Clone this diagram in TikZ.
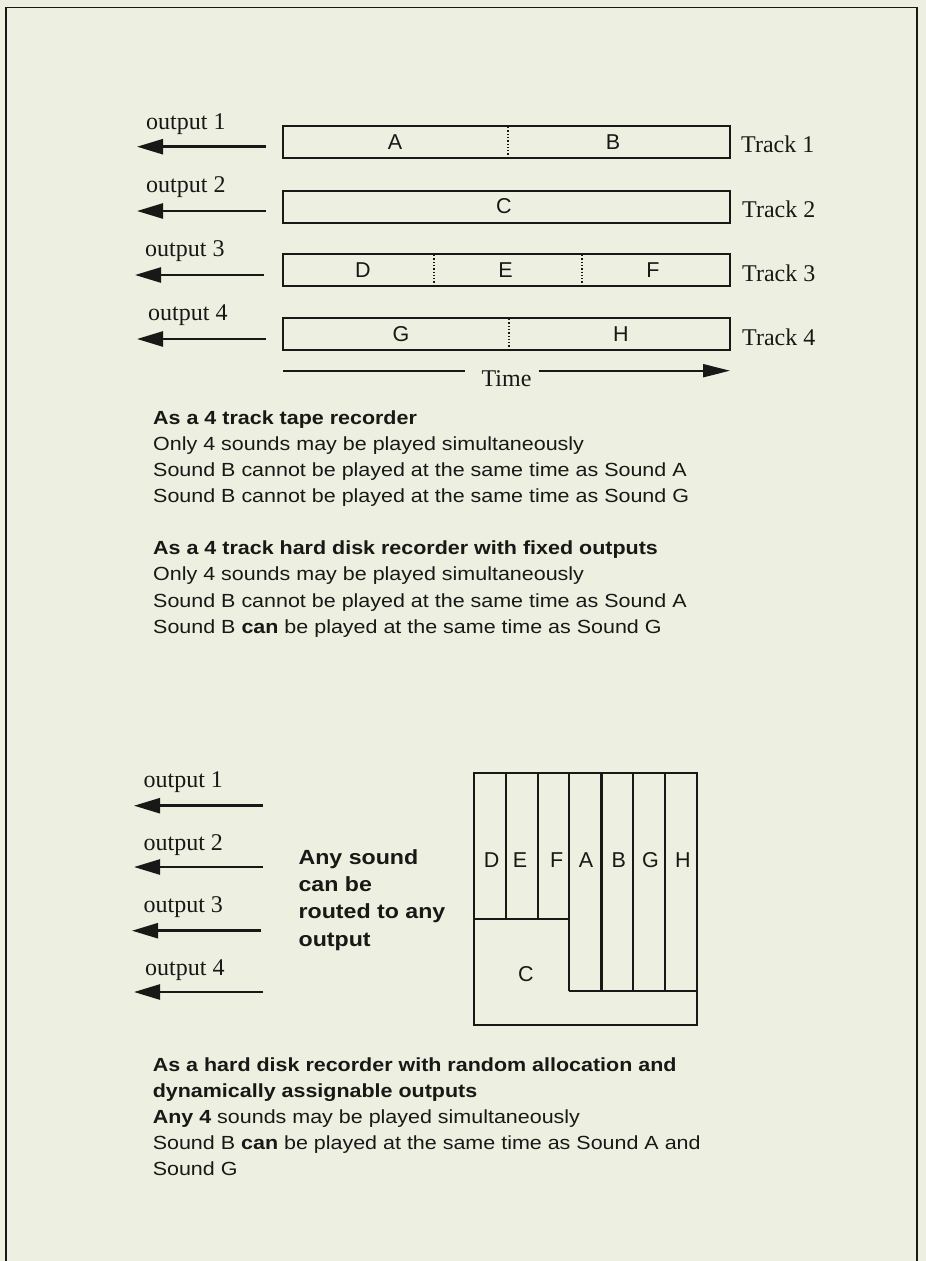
\documentclass[tikz,border=0pt]{standalone}
\usepackage{fontspec}
\setmainfont{Liberation Serif}
\newfontfamily\hsans[FakeStretch=1.13]{Liberation Sans}
\newfontfamily\hplain{Liberation Sans}
\usetikzlibrary{arrows.meta}
\definecolor{paper}{RGB}{237,239,224}
\definecolor{ink}{RGB}{24,24,22}
\tikzset{
  frameline/.style={draw=ink,line width=1.9pt},
  trackbox/.style={draw=ink,line width=2.4pt,minimum width=447pt,minimum height=32pt,inner sep=0pt},
  divider/.style={draw=ink,line width=1.3pt,dotted},
  cellline/.style={draw=ink,line width=2.2pt},
  outarrow/.style={draw=ink,line width=2.5pt,-{Triangle[length=26pt,width=15pt]}},
  timearrow/.style={draw=ink,line width=2pt,-{Triangle[length=27pt,width=13pt]}},
  timeline/.style={draw=ink,line width=2pt},
  serif/.style={text=ink,font=\fontsize{24}{28}\selectfont,inner sep=0pt},
  letter/.style={text=ink,font=\hplain\fontsize{21.5}{24}\selectfont,inner sep=0pt,anchor=base},
  body/.style={text=ink,font=\hsans\fontsize{19}{26}\selectfont,inner sep=0pt,anchor=base west},
  bodybold/.style={body,font=\hsans\bfseries\fontsize{19}{26}\selectfont},
  routed/.style={text=ink,font=\hsans\bfseries\fontsize{20.5}{27}\selectfont,inner sep=0pt,anchor=base west},
}
\begin{document}
\begin{tikzpicture}[x=1pt,y=-1pt]
\useasboundingbox[fill=paper] (0,0) rectangle (926,1261);
% frame
\draw[frameline] (6,1261) -- (6,7.5) -- (917,7.5) -- (917,1261);

% ---------- top: tracks ----------
\node[trackbox] (t1) at (506.5,142) {};
\node[trackbox] (t2) at (506.5,206.7) {};
\node[trackbox] (t3) at (506.5,270) {};
\node[trackbox] (t4) at (506.5,334) {};
\draw[divider] (508,127) -- (508,157);
\draw[divider] (434,255) -- (434,285);
\draw[divider] (582,255) -- (582,285);
\draw[divider] (509,319) -- (509,349);

\node[letter] (lA) at (395,149.3) {A};
\node[letter] (lB) at (613,149.3) {B};
\node[letter] (lC) at (504,213.3) {C};
\node[letter] (lD) at (363,277.3) {D};
\node[letter] (lE) at (505.6,277.3) {E};
\node[letter] (lF) at (653,277.3) {F};
\node[letter] (lG) at (401,341.7) {G};
\node[letter] (lH) at (621,341.7) {H};

\node[serif,anchor=base west] (tr1) at (741,152.7) {Track 1};
\node[serif,anchor=base west] (tr2) at (742,217.3) {Track 2};
\node[serif,anchor=base west] (tr3) at (742,281.7) {Track 3};
\node[serif,anchor=base west] (tr4) at (742,345) {Track 4};

\node[serif,anchor=base west] (o1) at (146,129.3) {output 1};
\node[serif,anchor=base west] (o2) at (146,192.7) {output 2};
\node[serif,anchor=base west] (o3) at (145,256.7) {output 3};
\node[serif,anchor=base west] (o4) at (148,320) {output 4};

\coordinate (a1s) at (266,146.7); \coordinate (a1e) at (137,146.7);
\coordinate (a2s) at (266,211);   \coordinate (a2e) at (137,211);
\coordinate (a3s) at (264,275);   \coordinate (a3e) at (135,275);
\coordinate (a4s) at (266,339);   \coordinate (a4e) at (137,339);
\draw[outarrow] (a1s) -- (a1e);
\draw[outarrow] (a2s) -- (a2e);
\draw[outarrow] (a3s) -- (a3e);
\draw[outarrow] (a4s) -- (a4e);

\node[serif,anchor=base] (time) at (506.5,386.7) {Time};
\coordinate (ts) at (283,370.7);
\coordinate (tm1) at (465,370.7);
\coordinate (tm2) at (538.6,370.7);
\coordinate (te) at (730,370.7);
\draw[timeline] (ts) -- (tm1);
\draw[timearrow] (tm2) -- (te);

% ---------- text blocks ----------
\node[bodybold] (h1) at (153,424) {As a 4 track tape recorder};
\node[body] (h1a) at (153,450) {Only 4 sounds may be played simultaneously};
\node[body] (h1b) at (153,476) {Sound B cannot be played at the same time as Sound A};
\node[body] (h1c) at (153,502) {Sound B cannot be played at the same time as Sound G};

\node[bodybold] (h2) at (153,554) {As a 4 track hard disk recorder with fixed outputs};
\node[body] (h2a) at (153,580.5) {Only 4 sounds may be played simultaneously};
\node[body] (h2b) at (153,607) {Sound B cannot be played at the same time as Sound A};
\node[body] (h2c) at (153,633.5) {Sound B \textbf{can} be played at the same time as Sound G};

% ---------- bottom: random allocation ----------
\node[serif,anchor=base west] (p1) at (143.4,787.3) {output 1};
\node[serif,anchor=base west] (p2) at (143.4,850.7) {output 2};
\node[serif,anchor=base west] (p3) at (143.4,912.7) {output 3};
\node[serif,anchor=base west] (p4) at (145,975) {output 4};

\coordinate (b1s) at (263,805.7); \coordinate (b1e) at (134,805.7);
\coordinate (b2s) at (263,867);   \coordinate (b2e) at (134,867);
\coordinate (b3s) at (261,930.7); \coordinate (b3e) at (132,930.7);
\coordinate (b4s) at (263,992);   \coordinate (b4e) at (134,992);
\draw[outarrow] (b1s) -- (b1e);
\draw[outarrow] (b2s) -- (b2e);
\draw[outarrow] (b3s) -- (b3e);
\draw[outarrow] (b4s) -- (b4e);

\node[routed] (r1) at (298.4,864) {Any sound};
\node[routed] (r2) at (298.4,891) {can be};
\node[routed] (r3) at (298.4,918.3) {routed to any};
\node[routed] (r4) at (298.4,946) {output};

% allocation block
\draw[cellline] (473.7,773) rectangle (697,1025);
\draw[cellline] (506.2,773) -- (506.2,919);
\draw[cellline] (538.3,773) -- (538.3,919);
\draw[cellline] (569,773) -- (569,990.7);
\draw[cellline] (601.5,773) -- (601.5,990.7);
\draw[cellline] (633.3,773) -- (633.3,990.7);
\draw[cellline] (665,773) -- (665,990.7);
\draw[cellline] (473.7,919) -- (569,919);
\draw[cellline] (569,990.7) -- (697,990.7);

\node[letter] (mD) at (491.6,867.3) {D};
\node[letter] (mE) at (520,867.3) {E};
\node[letter] (mF) at (556.7,867.3) {F};
\node[letter] (mA) at (586,867.3) {A};
\node[letter] (mB) at (618.7,867.3) {B};
\node[letter] (mG) at (650.5,867.3) {G};
\node[letter] (mH) at (683,867.3) {H};
\node[letter] (mC) at (526,981) {C};

\node[bodybold] (h3) at (152.6,1071) {As a hard disk recorder with random allocation and};
\node[bodybold] (h3x) at (152.6,1097) {dynamically assignable outputs};
\node[body] (h3a) at (152.6,1123) {\textbf{Any 4} sounds may be played simultaneously};
\node[body] (h3b) at (152.6,1149) {Sound B \textbf{can} be played at the same time as Sound A and};
\node[body] (h3c) at (152.6,1175) {Sound G};
\end{tikzpicture}
\end{document}
